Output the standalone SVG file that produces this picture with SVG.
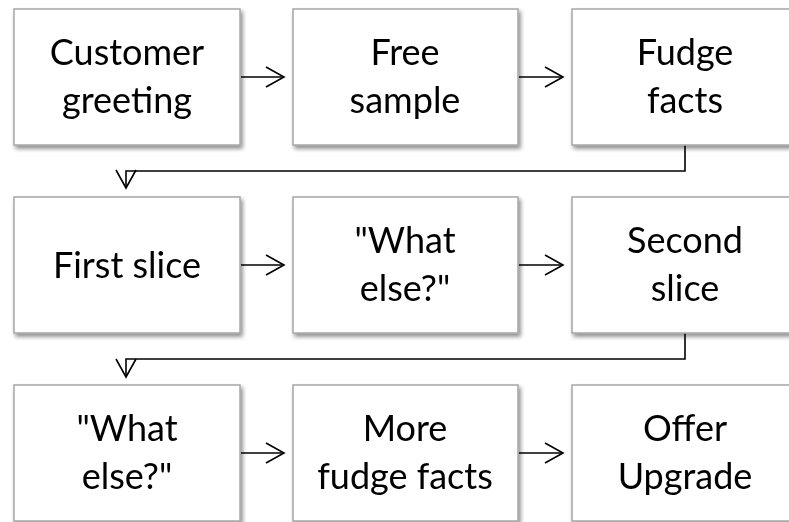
<svg xmlns="http://www.w3.org/2000/svg" width="789" height="522" viewBox="0 0 789 522">
  <defs>
    <style>
      .box { fill: #ffffff; stroke: #a6a6a6; stroke-width: 1.5; }
      .lbl { font-family: Lato, "Open Sans", "Liberation Sans", sans-serif; font-size: 36px; fill: #000000; text-anchor: middle; }
      .link { fill: none; stroke: #000000; stroke-width: 1.6; }
    </style>
    <filter id="shadow" x="-10%" y="-10%" width="125%" height="130%">
      <feGaussianBlur in="SourceAlpha" stdDeviation="2"/>
      <feOffset dx="2" dy="3" result="off"/>
      <feComponentTransfer><feFuncA type="linear" slope="0.45"/></feComponentTransfer>
      <feMerge><feMergeNode/><feMergeNode in="SourceGraphic"/></feMerge>
    </filter>
    <marker id="chev" markerUnits="userSpaceOnUse" markerWidth="22" markerHeight="24" viewBox="0 0 22 24" refX="19" refY="12" orient="auto">
      <path d="M1,2 L19,12 L1,22" fill="none" stroke="#000" stroke-width="1.6"/>
    </marker>
  </defs>
  <rect width="789" height="522" fill="#ffffff"/>

  <g id="connectors">
    <path class="link" d="M241,77 H284" marker-end="url(#chev)"/>
    <path class="link" d="M519,77 H563" marker-end="url(#chev)"/>
    <path class="link" d="M685,145 V171 H126 V188" marker-end="url(#chev)"/>
    <path class="link" d="M241,265 H284" marker-end="url(#chev)"/>
    <path class="link" d="M519,265 H563" marker-end="url(#chev)"/>
    <path class="link" d="M685,333 V359 H126 V377" marker-end="url(#chev)"/>
    <path class="link" d="M241,453 H284" marker-end="url(#chev)"/>
    <path class="link" d="M519,453 H563" marker-end="url(#chev)"/>
  </g>

  <g id="n1" filter="url(#shadow)">
    <rect class="box" x="14" y="9" width="226" height="136"/>
    <text class="lbl" x="127" y="65">Customer</text>
    <text class="lbl" x="127" y="113">greeting</text>
  </g>
  <g id="n2" filter="url(#shadow)">
    <rect class="box" x="293" y="9" width="225" height="136"/>
    <text class="lbl" x="405" y="65">Free</text>
    <text class="lbl" x="405" y="113">sample</text>
  </g>
  <g id="n3" filter="url(#shadow)">
    <rect class="box" x="572" y="9" width="226" height="136"/>
    <text class="lbl" x="685" y="65">Fudge</text>
    <text class="lbl" x="685" y="113">facts</text>
  </g>

  <g id="n4" filter="url(#shadow)">
    <rect class="box" x="14" y="197" width="226" height="136"/>
    <text class="lbl" x="127" y="278">First slice</text>
  </g>
  <g id="n5" filter="url(#shadow)">
    <rect class="box" x="293" y="197" width="225" height="136"/>
    <text class="lbl" x="405" y="253">"What</text>
    <text class="lbl" x="405" y="301">else?"</text>
  </g>
  <g id="n6" filter="url(#shadow)">
    <rect class="box" x="572" y="197" width="226" height="136"/>
    <text class="lbl" x="685" y="253">Second</text>
    <text class="lbl" x="685" y="301">slice</text>
  </g>

  <g id="n7" filter="url(#shadow)">
    <rect class="box" x="14" y="385" width="226" height="136"/>
    <text class="lbl" x="127" y="441">"What</text>
    <text class="lbl" x="127" y="489">else?"</text>
  </g>
  <g id="n8" filter="url(#shadow)">
    <rect class="box" x="293" y="385" width="225" height="136"/>
    <text class="lbl" x="405" y="441">More</text>
    <text class="lbl" x="405" y="489">fudge facts</text>
  </g>
  <g id="n9" filter="url(#shadow)">
    <rect class="box" x="572" y="385" width="226" height="136"/>
    <text class="lbl" x="685" y="441">Offer</text>
    <text class="lbl" x="685" y="489">Upgrade</text>
  </g>
</svg>
